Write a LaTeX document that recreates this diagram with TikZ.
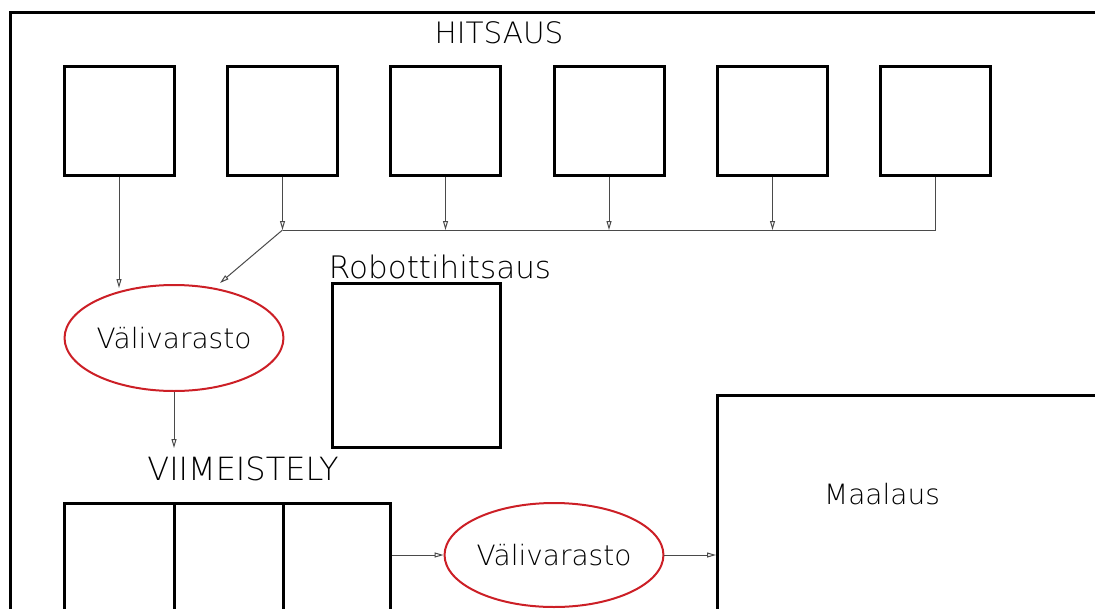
\documentclass[tikz,border=0pt]{standalone}
\usepackage{fontspec}
\setmainfont{DejaVu Sans ExtraLight}
\usetikzlibrary{shapes.geometric,arrows.meta}
\definecolor{ellred}{HTML}{CC1F26}
\definecolor{conn}{HTML}{4A4A4A}
\tikzset{
  box/.style={draw=black, line width=3pt, inner sep=0pt},
  ell/.style={draw=ellred, line width=2pt, ellipse, inner sep=0pt, font=\fontsize{28}{30}\selectfont},
  lbl/.style={inner sep=0pt, font=\fontsize{28}{30}\selectfont},
  biglbl/.style={inner sep=0pt, font=\fontsize{31}{33}\selectfont},
  conline/.style={draw=conn, line width=1pt},
  arr/.style={conline, -{Triangle[open, length=9pt, width=5pt]}}
}
\begin{document}
\begin{tikzpicture}[x=1pt,y=-1pt]
\useasboundingbox (0,0) rectangle (1095,608);
% outer frame
\draw[line width=3pt] (10,640) -- (10,12) -- (1120,12);
% top boxes
\foreach \i/\x in {1/119,2/282.5,3/445.5,4/609,5/772.5,6/935.5}{
  \node[box, minimum width=110pt, minimum height=109pt] (b\i) at (\x,120.5) {};
}
\node[lbl, font=\fontsize{29.5}{31}\selectfont] (hitsaus) at (499,33) {HITSAUS};
% junction and lines
\coordinate (j) at (282.5,230);
\coordinate (t1) at (119,288);
\coordinate (t3) at (445.5,230);
\coordinate (t4) at (609,230);
\coordinate (t5) at (772.5,230);
\coordinate (c6) at (935.5,230);
\coordinate (te1) at (220,283);
\draw[arr] (b1.south) -- (t1);
\draw[arr] (b2.south) -- (j);
\draw[arr] (b3.south) -- (t3);
\draw[arr] (b4.south) -- (t4);
\draw[arr] (b5.south) -- (t5);
\draw[conline] (b6.south) -- (c6) -- (j);
\draw[arr] (j) -- (te1);
% ellipse 1
\node[ell, minimum width=216pt, minimum height=106pt] (e1) at (174,338) {V\"alivarasto};
% robot
\node[biglbl] (robotlbl) at (440,267) {Robottihitsaus};
\node[box, minimum width=168pt, minimum height=164pt] (robot) at (416,365) {};
% viimeistely
\coordinate (tv) at (174,448);
\draw[arr] (e1.south) -- (tv);
\node[lbl, font=\fontsize{32}{34}\selectfont] (viim) at (243,469) {VIIMEISTELY};
\node[box, minimum width=110pt, minimum height=130pt] (v1) at (119,568) {};
\node[box, minimum width=109pt, minimum height=130pt] (v2) at (228.5,568) {};
\node[box, minimum width=107pt, minimum height=130pt] (v3) at (336.5,568) {};
% ellipse 2
\node[ell, minimum width=218pt, minimum height=104pt] (e2) at (554,555) {V\"alivarasto};
% maalaus
\node[box, minimum width=420pt, minimum height=260pt, anchor=north west] (maal) at (716,394) {};
\node[lbl] (maallbl) at (882,494) {Maalaus};
\draw[arr] (v3.east |- e2.west) -- (e2.west);
\draw[arr] (e2.east) -- (maal.west |- e2.east);
\end{tikzpicture}
\end{document}
